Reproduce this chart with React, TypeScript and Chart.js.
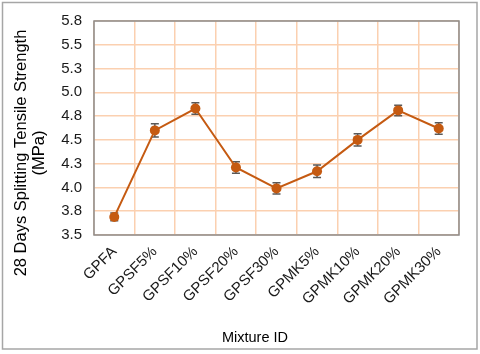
import React, { useEffect, useRef } from "react";
import { Chart, registerables } from "chart.js";

Chart.register(...registerables);

const categories = ["GPFA", "GPSF5%", "GPSF10%", "GPSF20%", "GPSF30%", "GPMK5%", "GPMK10%", "GPMK20%", "GPMK30%"];
const strength = [3.69, 4.6, 4.83, 4.21, 3.99, 4.17, 4.5, 4.81, 4.62];
const errors = [0.04, 0.07, 0.06, 0.06, 0.06, 0.065, 0.065, 0.055, 0.06];
const yTitleLines = ["28 Days Splitting Tensile Strength", "(MPa)"];
const xTitle = "Mixture ID";
const yMin = 3.5;
const yMax = 5.75;
const yStep = 0.25;

const FONT = "'Liberation Sans', Arial, sans-serif";

const decorPlugin = {
  id: "decor",
  beforeDraw(chart: any) {
    const ctx = chart.ctx;
    ctx.save();
    ctx.fillStyle = "#ffffff";
    ctx.fillRect(0, 0, chart.width, chart.height);
    ctx.strokeStyle = "#a6a6a6";
    ctx.lineWidth = 1.5;
    ctx.strokeRect(2.5, 2.5, 474.5, 346.5);
    ctx.restore();
  },
  beforeDatasetsDraw(chart: any) {
    const ctx = chart.ctx;
    const ca = chart.chartArea;
    ctx.save();
    ctx.strokeStyle = "#8c8c8c";
    ctx.lineWidth = 1.5;
    ctx.strokeRect(ca.left, ca.top, ca.right - ca.left, ca.bottom - ca.top);
    // error bars
    const xs = chart.scales.x;
    const ys = chart.scales.y;
    ctx.strokeStyle = "#595959";
    ctx.lineWidth = 1.5;
    strength.forEach((v, i) => {
      const x = xs.getPixelForValue(i);
      const yHi = ys.getPixelForValue(v + errors[i]);
      const yLo = ys.getPixelForValue(v - errors[i]);
      ctx.beginPath();
      ctx.moveTo(x, yHi);
      ctx.lineTo(x, yLo);
      ctx.moveTo(x - 4, yHi);
      ctx.lineTo(x + 4, yHi);
      ctx.moveTo(x - 4, yLo);
      ctx.lineTo(x + 4, yLo);
      ctx.stroke();
    });
    ctx.restore();
  },
  afterDraw(chart: any) {
    const ctx = chart.ctx;
    ctx.save();
    ctx.fillStyle = "#000000";
    ctx.textAlign = "center";
    ctx.textBaseline = "middle";
    // y title
    ctx.save();
    ctx.font = `16.5px ${FONT}`;
    ctx.translate(21, 153);
    ctx.rotate(-Math.PI / 2);
    ctx.fillText(yTitleLines[0], 0, 0);
    ctx.fillText(yTitleLines[1], 0, 18);
    ctx.restore();
    // x title
    ctx.font = `14.5px ${FONT}`;
    ctx.fillText(xTitle, 255, 338);
    ctx.restore();
  },
};

export default function App() {
  const ref = useRef<HTMLCanvasElement | null>(null);
  useEffect(() => {
    if (!ref.current) return;
    const chart = new Chart(ref.current, {
      type: "line",
      data: {
        labels: categories,
        datasets: [
          {
            data: strength,
            borderColor: "#c55a11",
            backgroundColor: "#c55a11",
            borderWidth: 2,
            pointRadius: 5,
            pointHoverRadius: 5,
            pointBorderWidth: 0,
            tension: 0,
          },
        ],
      },
      options: {
        animation: false,
        responsive: false,
        devicePixelRatio: 1,
        layout: { padding: { left: 0, top: 15, right: 21, bottom: 0 } },
        plugins: { legend: { display: false }, tooltip: { enabled: false } },
        scales: {
          x: {
            type: "category",
            offset: true,
            grid: { offset: true, color: "#fbd0b0", lineWidth: 1.5, drawTicks: false },
            border: { display: false },
            ticks: {
              color: "#1a1a1a",
              font: { family: FONT, size: 15 },
              minRotation: 45,
              maxRotation: 45,
              padding: 8,
              autoSkip: false,
            },
            afterFit: (s: any) => {
              s.height = 119;
            },
          },
          y: {
            min: yMin,
            max: yMax,
            grid: { color: "#fbd0b0", lineWidth: 1.5, drawTicks: false },
            border: { display: false },
            ticks: {
              stepSize: yStep,
              color: "#1a1a1a",
              font: { family: FONT, size: 15 },
              padding: 12,
              callback: (v: any) => Number(v).toFixed(1),
            },
            afterFit: (s: any) => {
              s.width = 94;
            },
          },
        },
      },
      plugins: [decorPlugin],
    });
    return () => chart.destroy();
  }, []);
  return (
    <div style={{ position: "fixed", left: 0, top: 0, width: 480, height: 354, background: "#fff" }}>
      <canvas ref={ref} width={480} height={354} style={{ width: 480, height: 354, display: "block" }} />
    </div>
  );
}
